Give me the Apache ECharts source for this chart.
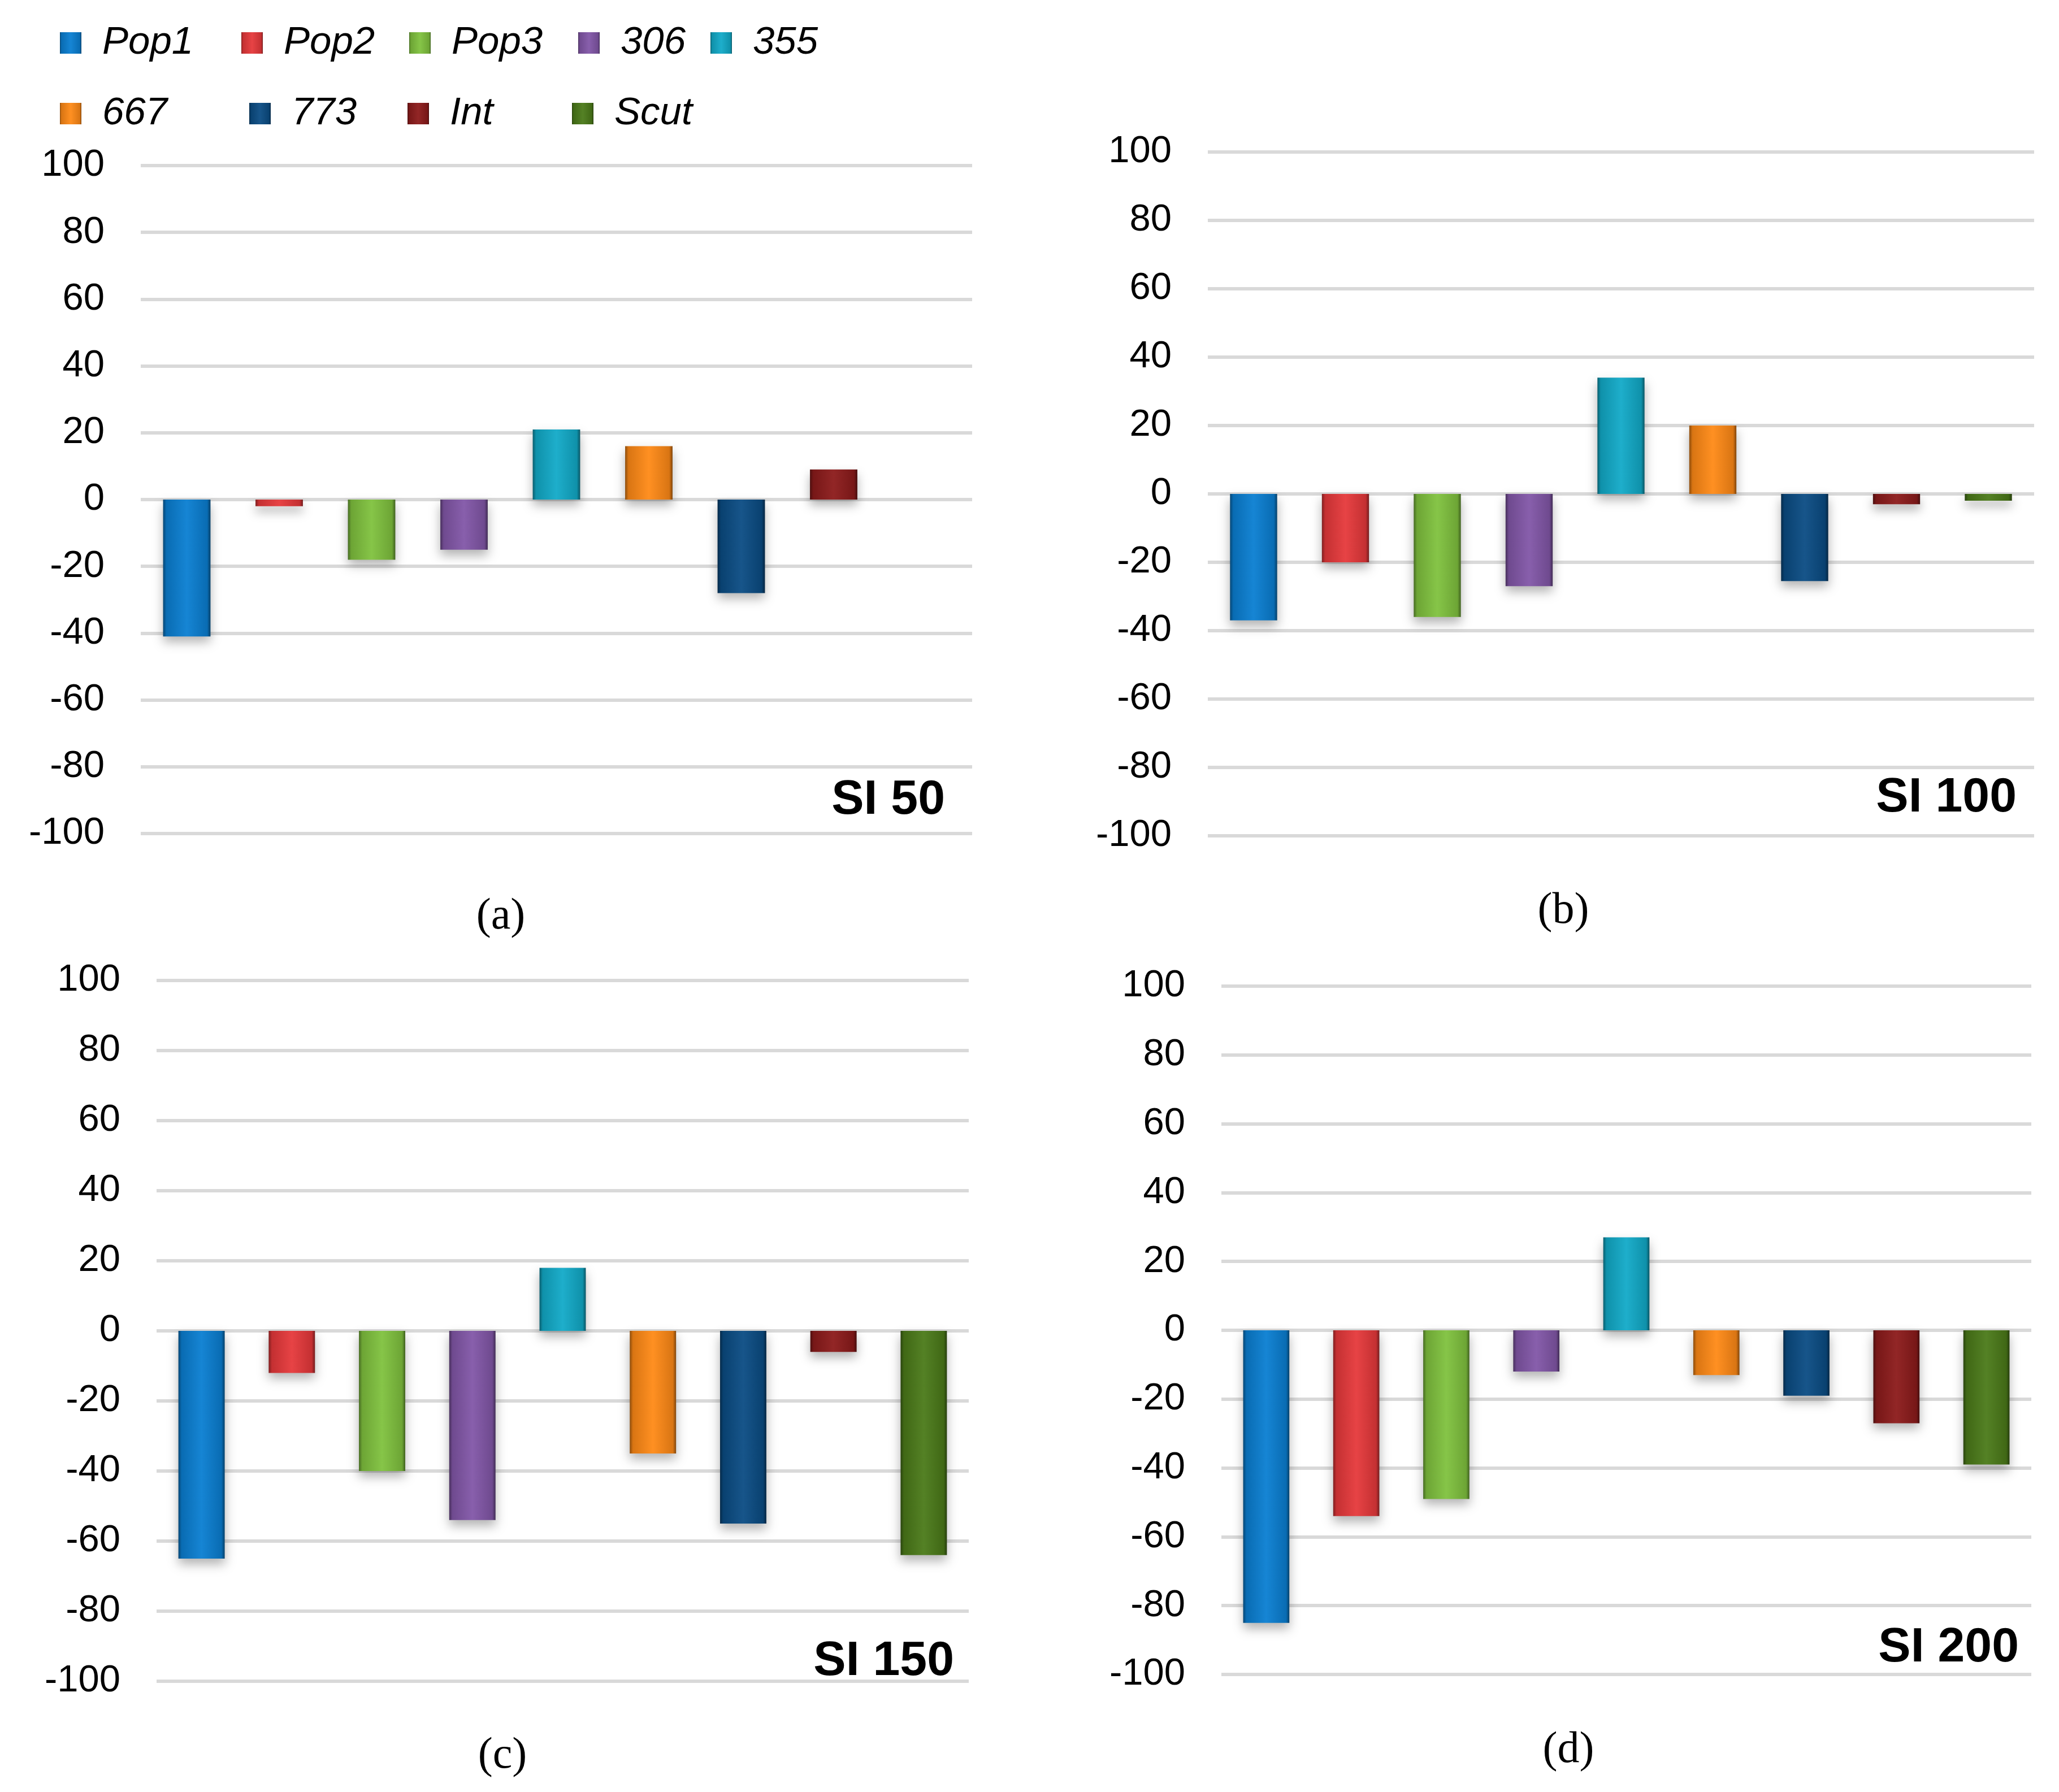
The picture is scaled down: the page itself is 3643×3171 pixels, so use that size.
<!DOCTYPE html>
<html>
<head>
<meta charset="utf-8">
<script src="https://cdn.jsdelivr.net/npm/echarts@6/dist/echarts.min.js"></script>
<style>
html,body{margin:0;padding:0;background:#fff;}
#chart{width:3643px;height:3171px;}
</style>
</head>
<body>
<div id="chart"></div>
<script>
// ---- data ----
const seriesNames = ['Pop1', 'Pop2', 'Pop3', '306', '355', '667', '773', 'Int', 'Scut'];
const si50  = [-41, -2, -18, -15, 21, 16, -28, 9, 0];
const si100 = [-37, -20, -36, -27, 34, 20, -25.5, -3, -2];
const si150 = [-65, -12, -40, -54, 18, -35, -55, -6, -64];
const si200 = [-85, -54, -49, -12, 27, -13, -19, -27, -39];
const panelValues = [si50, si100, si150, si200];
const panelTitles = ['SI 50', 'SI 100', 'SI 150', 'SI 200'];
const panelLetters = ['(a)', '(b)', '(c)', '(d)'];
const yMin = -100, yMax = 100, yStep = 20;

// ---- styles ----
const palette = ['#0a7fd2', '#e6393b', '#80c23e', '#8257a8', '#12aac8', '#ff8a16', '#0b4c84', '#8c1b1b', '#4b7a19'];
const grids = [
  {left: 249, top: 293, width: 1471, height: 1182},
  {left: 2137, top: 269, width: 1462, height: 1210},
  {left: 277, top: 1735, width: 1437, height: 1240},
  {left: 2161, top: 1745, width: 1433, height: 1218}
];
const titlePos = [[1672, 1416], [3568, 1412], [1688, 2940], [3572, 2916]];
const letterPos = [[886, 1623], [2766, 1613], [889, 3108], [2775, 3098]];
const legendPos = [[106, 38], [427, 38], [724, 38], [1023, 38], [1257, 38],
                   [106, 163], [441, 163], [721, 163], [1012, 163]];

function shade(hex, f) {
  const n = parseInt(hex.slice(1), 16);
  let r = (n >> 16) & 255, g = (n >> 8) & 255, b = n & 255;
  const t = c => Math.round(f < 0 ? c * (1 + f) : c + (255 - c) * f);
  r = t(r); g = t(g); b = t(b);
  return 'rgb(' + r + ',' + g + ',' + b + ')';
}
function grad(hex) {
  return {
    type: 'linear', x: 0, y: 0, x2: 1, y2: 0,
    colorStops: [
      {offset: 0, color: shade(hex, -0.45)},
      {offset: 0.07, color: shade(hex, -0.15)},
      {offset: 0.5, color: shade(hex, 0.05)},
      {offset: 0.93, color: shade(hex, -0.15)},
      {offset: 1, color: shade(hex, -0.5)}
    ]
  };
}

const font = 'Liberation Sans, Arial, sans-serif';

const option = {
  animation: false,
  backgroundColor: '#fff',
  grid: grids.map(g => Object.assign({containLabel: false}, g)),
  xAxis: grids.map((g, i) => ({
    type: 'category', gridIndex: i, data: [''],
    axisLine: {show: false}, axisTick: {show: false}, axisLabel: {show: false}, splitLine: {show: false}
  })),
  yAxis: grids.map((g, i) => ({
    type: 'value', gridIndex: i, min: yMin, max: yMax, interval: yStep,
    axisLine: {show: false}, axisTick: {show: false},
    axisLabel: {fontSize: 67, color: '#000', margin: 64, fontFamily: font},
    splitLine: {show: true, lineStyle: {color: '#d9d9d9', width: 6}}
  })),
  legend: seriesNames.map((name, i) => ({
    data: [name], left: legendPos[i][0], top: legendPos[i][1], padding: 0,
    icon: 'rect', itemWidth: 38, itemHeight: 38, selectedMode: false,
    textStyle: {fontSize: 69, fontStyle: 'italic', color: '#000', fontFamily: font, lineHeight: 76, padding: [0, 0, 0, 32]}
  })),
  series: [],
  graphic: []
};

panelValues.forEach((vals, p) => {
  vals.forEach((v, i) => {
    option.series.push({
      type: 'bar', name: seriesNames[i], xAxisIndex: p, yAxisIndex: p,
      data: [v], barWidth: '5.7%', barGap: '95%',
      itemStyle: {color: grad(palette[i]), shadowColor: 'rgba(0,0,0,0.3)', shadowBlur: 18, shadowOffsetY: 10}
    });
  });
  option.graphic.push({
    type: 'text', x: titlePos[p][0], y: titlePos[p][1],
    style: {text: panelTitles[p], fontSize: 86, fontWeight: 'bold', fill: '#000', fontFamily: font, align: 'right', verticalAlign: 'middle'}
  });
  option.graphic.push({
    type: 'text', x: letterPos[p][0], y: letterPos[p][1],
    style: {text: panelLetters[p], fontSize: 78, fill: '#000', fontFamily: 'Liberation Serif, DejaVu Serif, serif', align: 'center', verticalAlign: 'middle'}
  });
});

const chart = echarts.init(document.getElementById('chart'));
chart.setOption(option);
</script>
</body>
</html>
